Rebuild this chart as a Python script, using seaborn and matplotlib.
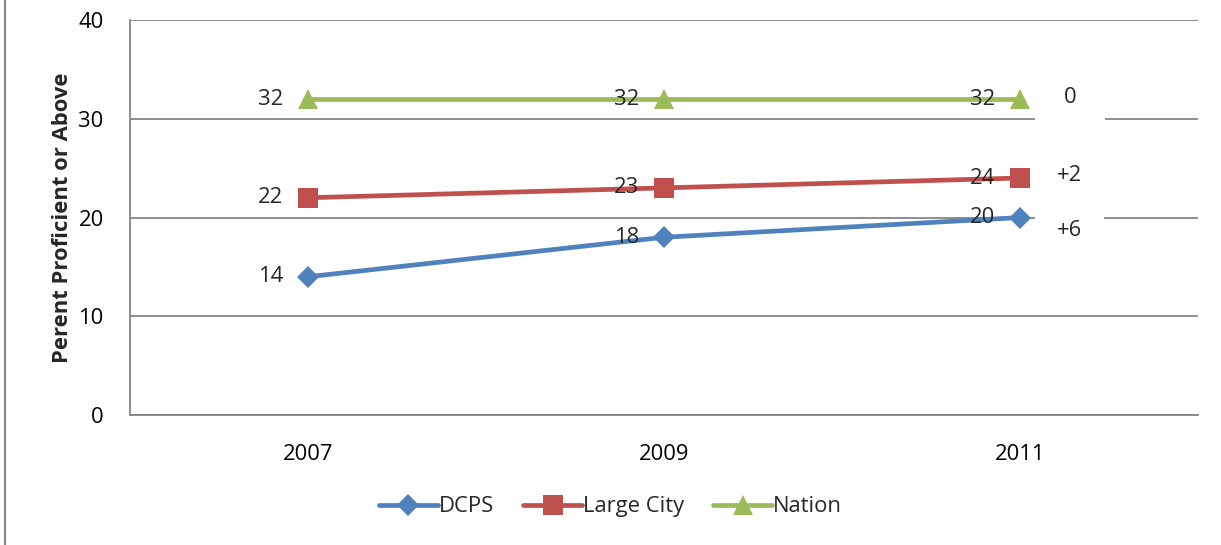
import pandas as pd
import numpy as np
import matplotlib
matplotlib.use("Agg")
import matplotlib.pyplot as plt
import seaborn as sns
from matplotlib.lines import Line2D

# data
years = [2007, 2009, 2011]
dcps = [14, 18, 20]
large_city = [22, 23, 24]
nation = [32, 32, 32]
series_names = ["DCPS", "Large City", "Nation"]
changes = ["+6", "+2", "0"]

colors = {"DCPS": "#4F81BD", "Large City": "#C0504D", "Nation": "#9BBB59"}
markers = {"DCPS": "D", "Large City": "s", "Nation": "^"}
msizes = {"DCPS": 11, "Large City": 14, "Nation": 14}

df = pd.DataFrame({
    "year": years * 3,
    "value": dcps + large_city + nation,
    "series": [s for s in series_names for _ in years],
})

sns.set_style("white")
plt.rcParams["font.family"] = ["Open Sans", "DejaVu Sans"]
fs = 15.8

fig = plt.figure(figsize=(12.21, 5.45), dpi=100)
ax = fig.add_axes([0.1065, 0.2385, 0.8747, 0.7248])

sns.lineplot(data=df, x="year", y="value", hue="series", style="series",
             markers=markers, dashes=False, palette=colors, linewidth=3.4,
             markersize=13, markeredgewidth=0, ax=ax, legend=False, zorder=3)
# per-series marker sizes
for line, name in zip(ax.lines, series_names):
    line.set_markersize(msizes[name])

ax.set_xlim(2006, 2012)
ax.set_ylim(0, 40)
ax.set_xticks(years)
ax.set_yticks([0, 10, 20, 30, 40])
ax.tick_params(axis="both", length=0, labelsize=fs, colors="black")
ax.tick_params(axis="x", pad=21)
ax.tick_params(axis="y", pad=19)
ax.set_xlabel("")
ax.set_ylabel("Perent Proficient or Above", fontsize=15.8, fontweight="bold", labelpad=4)

ax.yaxis.grid(True, color="#868686", linewidth=1.3)
ax.set_axisbelow(True)
for side in ["top", "right"]:
    ax.spines[side].set_visible(False)
for side in ["left", "bottom"]:
    ax.spines[side].set_color("#868686")
    ax.spines[side].set_linewidth(1.3)

# data labels to the left of the points
for name, vals in zip(series_names, [dcps, large_city, nation]):
    for x, y in zip(years, vals):
        ax.annotate(str(y), (x, y), xytext=(-18, 0), textcoords="offset points",
                    ha="right", va="center", fontsize=fs, zorder=4)

# change labels on the right, with white boxes
change_y = {"+6": 18.7, "+2": 24.3, "0": 32.2}
pads = {"+6": 1.0, "+2": 0.6, "0": 1.3}
for c in changes:
    ax.text(2011.28, change_y[c], c, ha="center", va="center", fontsize=fs,
            bbox=dict(boxstyle="square,pad=%s" % pads[c], facecolor="white", edgecolor="none"),
            zorder=2)

handles = [Line2D([0], [0], color=colors[s], marker=markers[s], markersize=msizes[s],
                  markeredgewidth=0, linewidth=3.4) for s in series_names]
fig.legend(handles, series_names, loc="center", bbox_to_anchor=(0.5, 0.07), ncol=3,
           frameon=False, fontsize=fs, handlelength=2.7, handletextpad=0.05,
           columnspacing=1.3)

# outer frame line at the left edge
fig.add_artist(Line2D([0.004, 0.004], [0, 1], color="#868686", linewidth=1.5,
                      transform=fig.transFigure))

fig.savefig("out.png", dpi=100)
